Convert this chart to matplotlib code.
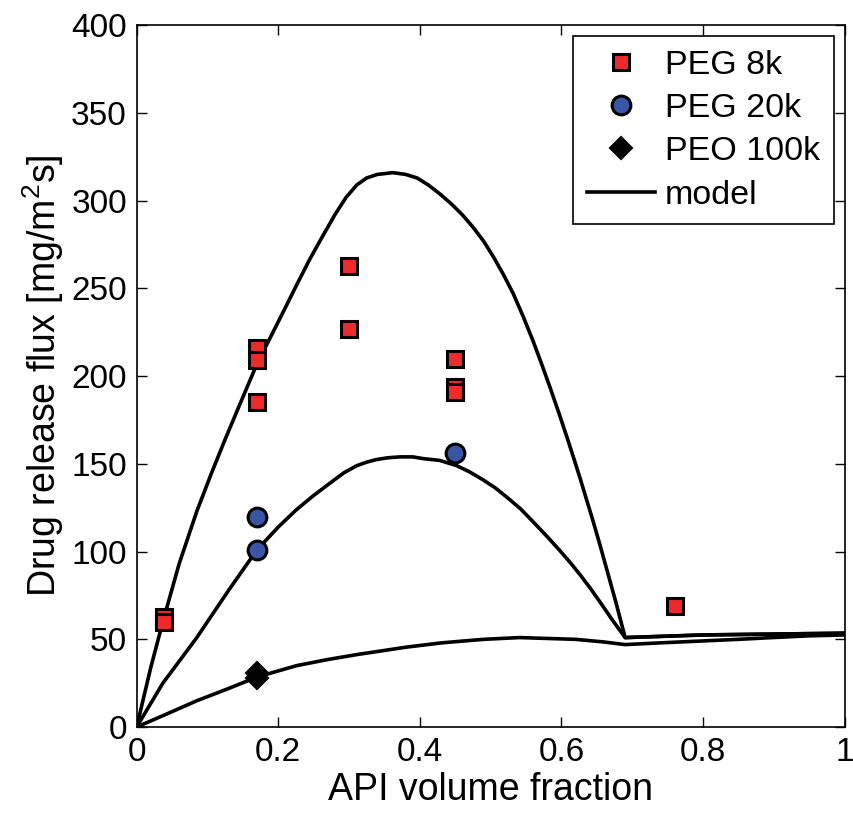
import matplotlib
matplotlib.use("Agg")
import matplotlib.pyplot as plt
from matplotlib.lines import Line2D

plt.rcParams["font.family"] = ["Liberation Sans", "DejaVu Sans"]
plt.rcParams["mathtext.fontset"] = "custom"
plt.rcParams["mathtext.rm"] = "Liberation Sans"
plt.rcParams["mathtext.it"] = "Liberation Sans"

# Measured release flux
peg8k_x = [0.038, 0.038, 0.17, 0.17, 0.17, 0.30, 0.30, 0.45, 0.45, 0.45, 0.76]
peg8k_y = [63, 60, 216, 209, 185, 263, 227, 210, 194, 191, 69]

peg20k_x = [0.17, 0.17, 0.45]
peg20k_y = [120, 101, 156]

peo100k_x = [0.17, 0.17]
peo100k_y = [31, 28]

# Model predictions
model_hi_x = [0, 0.02, 0.037, 0.06, 0.085, 0.105, 0.125, 0.15, 0.17, 0.19, 0.21, 0.226,
              0.245, 0.263, 0.28, 0.296, 0.311, 0.325, 0.34, 0.362, 0.38, 0.396, 0.412,
              0.428, 0.445, 0.46, 0.475, 0.49, 0.504, 0.518, 0.532, 0.546, 0.56, 0.572,
              0.584, 0.596, 0.608, 0.618, 0.627, 0.636, 0.645, 0.655, 0.665, 0.677,
              0.69, 0.8, 0.9, 1.0]
model_hi_y = [0, 34, 60, 93, 123, 144, 164, 188, 207, 223, 239, 252,
              267, 280, 292, 302, 309, 313, 315, 316, 315, 313, 309,
              304, 298, 292, 285, 277, 268, 258, 247, 234, 220, 207,
              193.5, 179.5, 165, 152.5, 141, 129, 117, 103, 88.5, 71,
              51, 52.5, 53, 53.5]

model_mid_x = [0, 0.037, 0.085, 0.13, 0.17, 0.2, 0.226, 0.25, 0.273, 0.293, 0.311, 0.325,
               0.339, 0.355, 0.372, 0.39, 0.405, 0.428, 0.452, 0.47, 0.489, 0.506, 0.523,
               0.542, 0.56, 0.58, 0.598, 0.613, 0.627, 0.641, 0.655, 0.672, 0.69, 0.8, 0.9, 1.0]
model_mid_y = [0, 25, 51, 78, 101, 114, 124, 132, 139, 145, 149, 151,
               152.5, 153.5, 154, 154, 153, 152, 149, 145.5, 141, 136.5, 131,
               124.5, 117, 108.5, 100.5, 93.5, 86.5, 79, 71, 61, 51, 52.5, 53, 53.5]

model_lo_x = [0, 0.04, 0.085, 0.13, 0.17, 0.2, 0.226, 0.27, 0.314, 0.339, 0.38, 0.431,
              0.49, 0.541, 0.58, 0.62, 0.66, 0.69, 0.74, 0.795, 0.85, 0.898, 0.95, 1.0]
model_lo_y = [0, 7, 15, 22, 28.5, 32, 35, 38.5, 41.5, 43, 45.5, 48,
              50, 51, 50.5, 50, 48.5, 47, 48, 49, 50, 51, 52, 52.5]

red = "#EE2B2B"
blue = "#3A55A4"

fig = plt.figure(figsize=(8.54, 8.16), dpi=100)
ax = fig.add_axes([0.160, 0.109, 0.829, 0.860])

lw = 2.6
for mx, my in [(model_hi_x, model_hi_y), (model_mid_x, model_mid_y), (model_lo_x, model_lo_y)]:
    ax.plot(mx, my, color="black", lw=lw, solid_joinstyle="round", zorder=2)

sq_style = dict(marker="s", markersize=11.5, markerfacecolor=red, markeredgecolor="black",
                markeredgewidth=2.2, linestyle="none")
ci_style = dict(marker="o", markersize=13.5, markerfacecolor=blue, markeredgecolor="black",
                markeredgewidth=2.2, linestyle="none")
di_style = dict(marker="D", markersize=11.5, markerfacecolor="black", markeredgecolor="black",
                markeredgewidth=1.5, linestyle="none")

ax.plot(peg8k_x, peg8k_y, zorder=3, **sq_style)
ax.plot(peg20k_x, peg20k_y, zorder=3, **ci_style)
ax.plot(peo100k_x, peo100k_y, zorder=3, **di_style)

ax.set_xlim(0, 1)
ax.set_ylim(0, 400)
ax.set_xticks([0, 0.2, 0.4, 0.6, 0.8, 1])
ax.set_xticklabels(["0", "0.2", "0.4", "0.6", "0.8", "1"])
ax.set_yticks(range(0, 401, 50))
ax.tick_params(direction="in", length=7, width=1, labelsize=24, pad=7,
               top=True, right=True)
for s in ax.spines.values():
    s.set_linewidth(1.2)

ax.set_xlabel("API volume fraction", fontsize=27, labelpad=3)
ax.set_ylabel(r"Drug release flux [mg/m$^2$s]", fontsize=27, labelpad=4)

handles = [
    Line2D([], [], **sq_style),
    Line2D([], [], **ci_style),
    Line2D([], [], **di_style),
    Line2D([], [], color="black", lw=lw),
]
labels = ["PEG 8k", "PEG 20k", "PEO 100k", "model"]
leg = ax.legend(handles, labels, loc="upper right", fontsize=24.5, frameon=True,
                fancybox=False, framealpha=1, edgecolor="black",
                handlelength=2.0, handletextpad=0.3, labelspacing=0.36,
                borderaxespad=0.32, borderpad=0.4)
leg.get_frame().set_linewidth(1.2)

fig.savefig("out.png", dpi=100, facecolor="white")
